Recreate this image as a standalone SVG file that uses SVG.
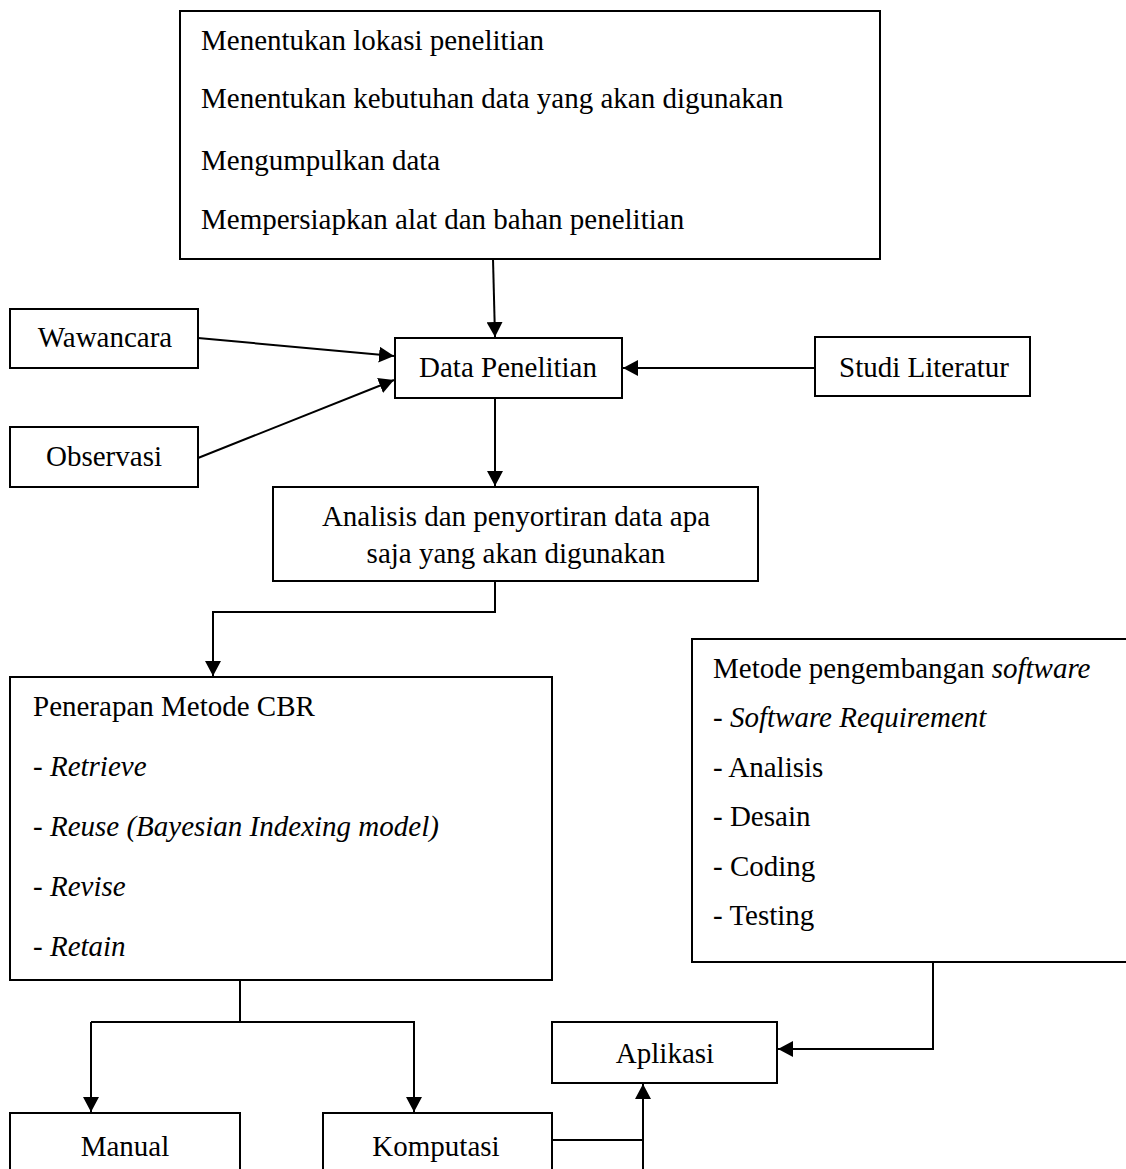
<svg xmlns="http://www.w3.org/2000/svg" width="1126" height="1169" viewBox="0 0 1126 1169">
<style>
.box{fill:#fff;stroke:#000;stroke-width:2}
.t{font-family:"Liberation Serif","Times New Roman",serif;font-size:29px;fill:#000}
.c{text-anchor:middle}
.i{font-style:italic}
.ln{fill:none;stroke:#000;stroke-width:2}
</style>
<defs>
<marker id="a" viewBox="0 0 15 16" refX="15" refY="8" markerWidth="15" markerHeight="16" markerUnits="userSpaceOnUse" orient="auto">
<path d="M0,0 L15,8 L0,16 z" fill="#000"/>
</marker>
</defs>
<rect width="1126" height="1169" fill="#fff"/>
<g id="persiapan">
<rect class="box" x="180" y="11" width="700" height="248"/>
<text class="t" x="201" y="50">Menentukan lokasi penelitian</text>
<text class="t" x="201" y="108">Menentukan kebutuhan data yang akan digunakan</text>
<text class="t" x="201" y="170">Mengumpulkan data</text>
<text class="t" x="201" y="229">Mempersiapkan alat dan bahan penelitian</text>
</g>
<g id="wawancara">
<rect class="box" x="10" y="309" width="188" height="59"/>
<text class="t c" x="105" y="347">Wawancara</text>
</g>
<g id="data">
<rect class="box" x="395" y="338" width="227" height="60"/>
<text class="t c" x="508" y="377">Data Penelitian</text>
</g>
<g id="studi">
<rect class="box" x="815" y="337" width="215" height="59"/>
<text class="t c" x="924" y="377">Studi Literatur</text>
</g>
<g id="observasi">
<rect class="box" x="10" y="427" width="188" height="60"/>
<text class="t c" x="104" y="466">Observasi</text>
</g>
<g id="analisis">
<rect class="box" x="273" y="487" width="485" height="94"/>
<text class="t c" x="516" y="526">Analisis dan penyortiran data apa</text>
<text class="t c" x="516" y="563">saja yang akan digunakan</text>
</g>
<g id="cbr">
<rect class="box" x="10" y="677" width="542" height="303"/>
<text class="t" x="33" y="716">Penerapan Metode CBR</text>
<text class="t" x="33" y="776">- <tspan class="i">Retrieve</tspan></text>
<text class="t" x="33" y="836">- <tspan class="i">Reuse (Bayesian Indexing model)</tspan></text>
<text class="t" x="33" y="896">- <tspan class="i">Revise</tspan></text>
<text class="t" x="33" y="956">- <tspan class="i">Retain</tspan></text>
</g>
<g id="software">
<rect class="box" x="692" y="639" width="445" height="323"/>
<text class="t" x="713" y="678">Metode pengembangan <tspan class="i">software</tspan></text>
<text class="t" x="713" y="727">- <tspan class="i">Software Requirement</tspan></text>
<text class="t" x="713" y="777">- Analisis</text>
<text class="t" x="713" y="826">- Desain</text>
<text class="t" x="713" y="876">- Coding</text>
<text class="t" x="713" y="925">- Testing</text>
</g>
<g id="aplikasi">
<rect class="box" x="552" y="1022" width="225" height="61"/>
<text class="t c" x="665" y="1063">Aplikasi</text>
</g>
<g id="manual">
<rect class="box" x="10" y="1113" width="230" height="70"/>
<text class="t c" x="125" y="1156">Manual</text>
</g>
<g id="komputasi">
<rect class="box" x="323" y="1113" width="229" height="70"/>
<text class="t c" x="436" y="1156">Komputasi</text>
</g>
<g id="connectors">
<path class="ln" d="M493,259 L495,337" marker-end="url(#a)"/>
<path class="ln" d="M198,338 L394,356" marker-end="url(#a)"/>
<path class="ln" d="M198,458 L394,380" marker-end="url(#a)"/>
<path class="ln" d="M815,368 L623,368" marker-end="url(#a)"/>
<path class="ln" d="M495,398 L495,486" marker-end="url(#a)"/>
<path class="ln" d="M495,581 L495,612 L213,612 L213,676" marker-end="url(#a)"/>
<path class="ln" d="M240,980 L240,1022"/>
<path class="ln" d="M91,1022 L414,1022 L414,1112" marker-end="url(#a)"/>
<path class="ln" d="M91,1022 L91,1112" marker-end="url(#a)"/>
<path class="ln" d="M933,962 L933,1049 L778,1049" marker-end="url(#a)"/>
<path class="ln" d="M552,1140 L643,1140"/>
<path class="ln" d="M643,1169 L643,1084" marker-end="url(#a)"/>
</g>
</svg>
